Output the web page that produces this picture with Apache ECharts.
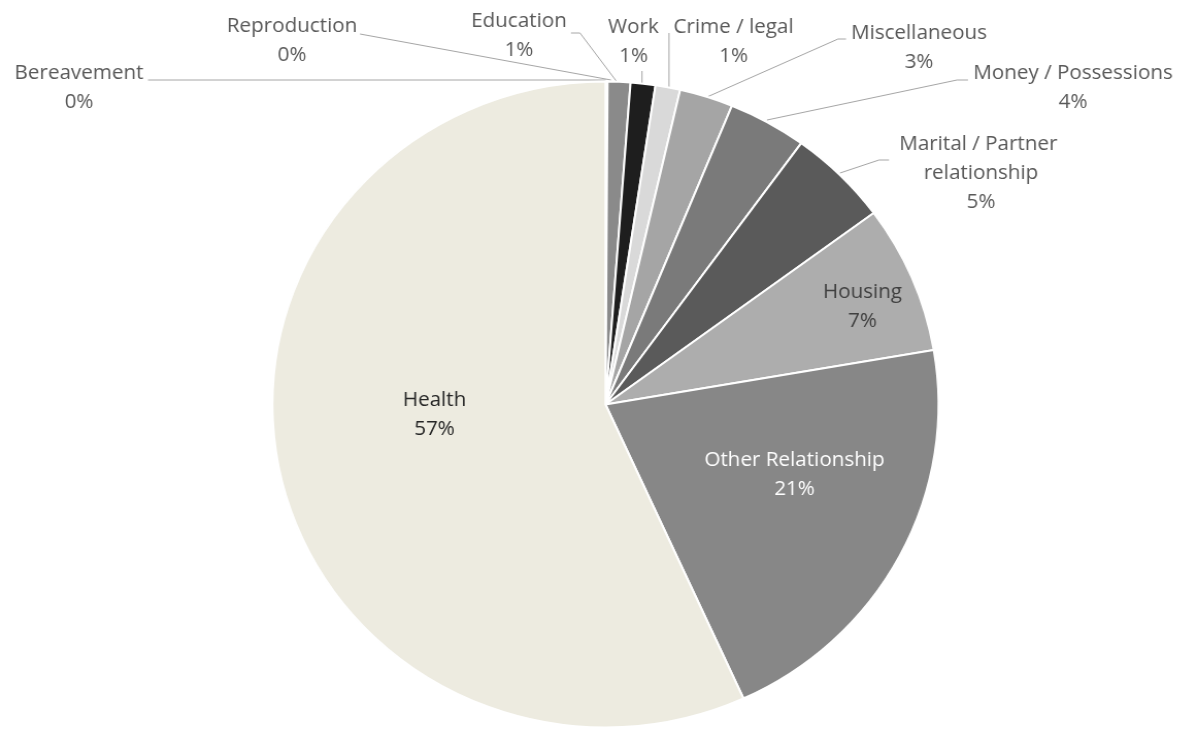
<!DOCTYPE html>
<html>
<head>
<meta charset="utf-8">
<script src="https://cdn.jsdelivr.net/npm/echarts@6/dist/echarts.min.js"></script>
<style>
  html, body { margin: 0; padding: 0; background: #ffffff; overflow: hidden; }
  /* the drawing is slightly wider than tall, so the canvas is stretched a little */
  #chart { width: 1158px; height: 729px; transform: scaleX(1.031); transform-origin: 0 0; }
</style>
</head>
<body>
<div id="chart"></div>
<script>
// Share of cases by problem type (%), clockwise from 12 o'clock
const categories = [
  'Bereavement', 'Reproduction', 'Education', 'Work', 'Crime / legal',
  'Miscellaneous', 'Money / Possessions', 'Marital / Partner relationship',
  'Housing', 'Other Relationship', 'Health'
];
const shares = [0.04, 0.06, 1.1, 1.2, 1.2, 2.6, 3.8, 4.9, 7.4, 20.9, 56.8];

// Slice fills, same order as the categories
const sliceColors = [
  '#a6a6a6', '#7f7f7f', '#8a8a8a', '#1e1e1e', '#d9d9d9',
  '#a5a5a5', '#7a7a7a', '#5a5a5a', '#adadad', '#878787', '#edebe0'
];

const SX = 1.031; // horizontal stretch applied to the canvas

// Label anchors and leader lines in page pixels
const labelSpots = {
  'Bereavement':         { x: 79,    y: 88,    line: [[148, 80], [606, 80]] },
  'Reproduction':        { x: 292,   y: 40.5,  line: [[360, 34], [611, 80]] },
  'Education':           { x: 519,   y: 36,    line: [[571, 33], [580, 33], [617, 82]] },
  'Work':                { x: 633.5, y: 41.5,  line: [[642, 71], [642, 84]] },
  'Crime / legal':       { x: 733.5, y: 41.5,  line: [[669, 33], [669, 87]] },
  'Miscellaneous':       { x: 919,   y: 48,    line: [[846, 39], [838, 39], [707, 97]] },
  'Money / Possessions': { x: 1073,  y: 88,    line: [[968, 80], [957, 80], [767, 120]] },
  'Marital / Partner relationship': { x: 981, y: 173.5, line: [[889, 160], [879, 160], [840, 173]] },
  'Housing':             { x: 862.5, y: 307 },
  'Other Relationship':  { x: 794.5, y: 475 },
  'Health':              { x: 434.5, y: 415 }
};

const insideLabelColors = {
  'Housing': '#404040',
  'Other Relationship': '#ffffff',
  'Health': '#262626'
};

const seriesData = categories.map(function (name, i) {
  const item = { name: name, value: shares[i], itemStyle: { color: sliceColors[i] } };
  if (insideLabelColors[name]) {
    item.label = { position: 'inside', color: insideLabelColors[name] };
    item.labelLine = { show: false };
  }
  if (name === 'Marital / Partner relationship') {
    item.label = { width: 175, overflow: 'break' };
  }
  return item;
});

const chart = echarts.init(document.getElementById('chart'), null, { renderer: 'canvas' });

chart.setOption({
  backgroundColor: '#ffffff',
  animation: false,
  series: [{
    type: 'pie',
    center: [605.5 / SX, 404.5],
    radius: 323,
    startAngle: 90,
    clockwise: true,
    percentPrecision: 0,
    avoidLabelOverlap: false,
    minShowLabelAngle: 0,
    itemStyle: { borderColor: '#ffffff', borderWidth: 2 },
    label: {
      show: true,
      position: 'outside',
      formatter: '{b}\n{d}%',
      fontFamily: 'Open Sans',
      fontSize: 20,
      lineHeight: 29,
      color: '#595959',
      align: 'center'
    },
    labelLine: {
      show: true,
      smooth: false,
      lineStyle: { color: '#a6a6a6', width: 1 }
    },
    emphasis: { disabled: true },
    labelLayout: function (p) {
      const spot = labelSpots[categories[p.dataIndex]];
      const out = { x: spot.x / SX, y: spot.y, align: 'center', verticalAlign: 'middle' };
      if (spot.line) {
        out.labelLinePoints = spot.line.map(function (pt) { return [pt[0] / SX, pt[1]]; });
      }
      return out;
    },
    data: seriesData
  }]
});
</script>
</body>
</html>
